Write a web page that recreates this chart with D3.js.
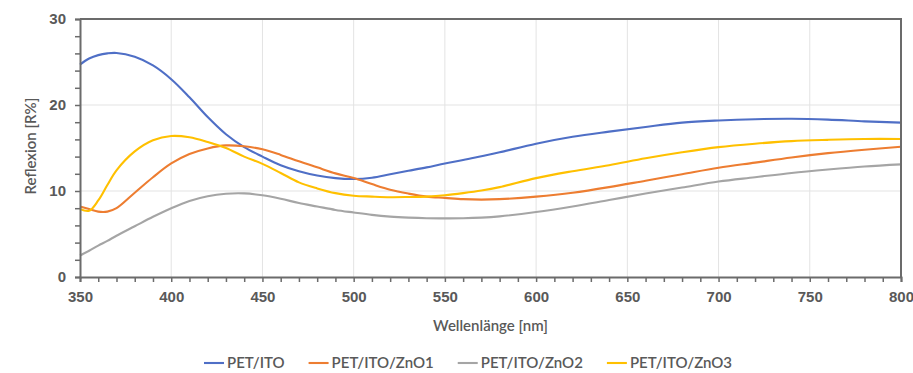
<!DOCTYPE html>
<html>
<head>
<meta charset="utf-8">
<script src="https://cdn.jsdelivr.net/npm/d3@7"></script>
<style>
  html, body { margin: 0; padding: 0; background: #fff; }
  svg { display: block; font-family: Lato, "Open Sans", sans-serif; }
</style>
</head>
<body>
<svg id="chart" width="913" height="373"></svg>
<script>
// Wavelength grid (nm)
const wavelengths = [350,355,360,365,370,380,390,400,410,420,430,440,450,460,470,480,490,500,510,520,530,540,550,560,570,580,600,620,640,660,680,700,720,740,760,780,800];

// Reflection [%] per sample
const petIto = [24.7,25.4,25.8,26.0,26.05,25.6,24.6,23.0,20.9,18.6,16.6,15.1,14.0,13.0,12.3,11.8,11.5,11.4,11.55,11.95,12.35,12.75,13.2,13.6,14.05,14.5,15.5,16.3,16.9,17.45,17.95,18.2,18.35,18.4,18.3,18.1,17.95];
const petItoZnO1 = [8.2,7.9,7.6,7.6,8.0,9.8,11.6,13.2,14.3,14.95,15.3,15.2,14.85,14.2,13.45,12.75,12.05,11.5,10.8,10.15,9.7,9.35,9.2,9.05,9.0,9.05,9.35,9.8,10.45,11.2,11.95,12.7,13.3,13.9,14.4,14.8,15.15];
const petItoZnO2 = [2.5,3.05,3.65,4.2,4.8,5.9,7.0,8.0,8.85,9.4,9.68,9.72,9.5,9.1,8.6,8.2,7.8,7.5,7.22,7.02,6.9,6.83,6.82,6.83,6.9,7.05,7.55,8.2,8.95,9.7,10.4,11.1,11.6,12.1,12.5,12.85,13.1];
const petItoZnO3 = [7.9,7.7,8.9,10.7,12.4,14.6,15.9,16.4,16.25,15.7,15.0,14.0,13.15,12.1,11.0,10.3,9.75,9.45,9.35,9.28,9.3,9.35,9.5,9.75,10.05,10.45,11.5,12.3,13.0,13.8,14.5,15.1,15.5,15.8,15.95,16.05,16.05];

const seriesNames = ["PET/ITO", "PET/ITO/ZnO1", "PET/ITO/ZnO2", "PET/ITO/ZnO3"];
const seriesValues = [petIto, petItoZnO1, petItoZnO2, petItoZnO3];
const seriesColors = ["#4F6FC6", "#ED7D31", "#A5A5A5", "#FFC000"];

const xTicks = [350,400,450,500,550,600,650,700,750,800];
const yTicks = [0,10,20,30];

const xTitle = "Wellenlänge [nm]";
const yTitle = "Reflexion [R%]";

const svg = d3.select("#chart");
const margin = { left: 80, right: 12, top: 19, bottom: 96 };
const W = 913, H = 373;
const x = d3.scaleLinear().domain([350, 800]).range([margin.left, W - margin.right]);
const y = d3.scaleLinear().domain([0, 30]).range([H - margin.bottom, margin.top]);

const textColor = "#595959";
const axisColor = "#6b6b6b";

// Gridlines
const grid = svg.append("g");
grid.selectAll("line.v").data(xTicks.slice(1, -1)).join("line")
  .attr("x1", d => x(d)).attr("x2", d => x(d))
  .attr("y1", y(30)).attr("y2", y(0))
  .attr("stroke", "#e3e3e3").attr("stroke-width", 1);
grid.selectAll("line.h").data(yTicks.slice(1, -1)).join("line")
  .attr("x1", x(350)).attr("x2", x(800))
  .attr("y1", d => y(d)).attr("y2", d => y(d))
  .attr("stroke", "#e3e3e3").attr("stroke-width", 1);

// Series lines
const line = d3.line()
  .x((d, i) => x(wavelengths[i]))
  .y(d => y(d))
  .curve(d3.curveCatmullRom.alpha(0.5));

svg.append("g").selectAll("path").data(seriesValues).join("path")
  .attr("d", d => line(d))
  .attr("fill", "none")
  .attr("stroke", (d, i) => seriesColors[i])
  .attr("stroke-width", 2.1)
  .attr("stroke-linejoin", "round");

// Frame (top and right edges)
svg.append("path")
  .attr("d", `M${x(350)},${y(30)}H${x(800)}V${y(0)}`)
  .attr("fill", "none").attr("stroke", axisColor).attr("stroke-width", 2);

// Y axis: majors every 10, minors every 2
const yAxis = svg.append("g")
  .attr("transform", `translate(${x(350)},0)`)
  .call(d3.axisLeft(y).tickValues(d3.range(0, 31, 2)).tickSize(5)
    .tickFormat(d => yTicks.includes(d) ? d : ""));
yAxis.select(".domain").attr("stroke", axisColor).attr("stroke-width", 2);
yAxis.selectAll(".tick line").attr("stroke", axisColor).attr("stroke-width", 1.5);
yAxis.selectAll(".tick text")
  .attr("x", -14)
  .attr("fill", textColor)
  .style("font-size", "15px").style("font-weight", "600");

// X axis: labels every 50, minor ticks every 10
const xAxis = svg.append("g")
  .attr("transform", `translate(0,${y(0)})`)
  .call(d3.axisBottom(x).tickValues(d3.range(350, 801, 10)).tickSize(5)
    .tickFormat(d => xTicks.includes(d) ? d : ""));
xAxis.select(".domain").attr("stroke", axisColor).attr("stroke-width", 2);
xAxis.selectAll(".tick line").attr("stroke", axisColor).attr("stroke-width", 1.5);
xAxis.selectAll(".tick text")
  .attr("y", 14)
  .attr("fill", textColor)
  .style("font-size", "15px").style("font-weight", "600");

// Axis titles
svg.append("text")
  .attr("x", (x(350) + x(800)) / 2).attr("y", 331)
  .attr("text-anchor", "middle")
  .attr("fill", textColor)
  .style("font-size", "15px").style("font-weight", "600")
  .text(xTitle);

svg.append("text")
  .attr("transform", `translate(36,146) rotate(-90)`)
  .attr("text-anchor", "middle")
  .attr("fill", textColor)
  .style("font-size", "15px").style("font-weight", "600")
  .text(yTitle);

// Legend
const legend = svg.append("g").attr("transform", "translate(0,363)");
let lx = 204;
seriesNames.forEach((name, i) => {
  const g = legend.append("g").attr("transform", `translate(${lx},0)`);
  g.append("line").attr("x1", 0).attr("x2", 20).attr("y1", 0).attr("y2", 0)
    .attr("stroke", seriesColors[i]).attr("stroke-width", 2.1);
  const t = g.append("text").attr("x", 23).attr("y", 5)
    .attr("fill", textColor)
    .style("font-size", "15px").style("font-weight", "600")
    .text(name);
  lx += 23 + t.node().getComputedTextLength() + 24;
});
</script>
</body>
</html>
